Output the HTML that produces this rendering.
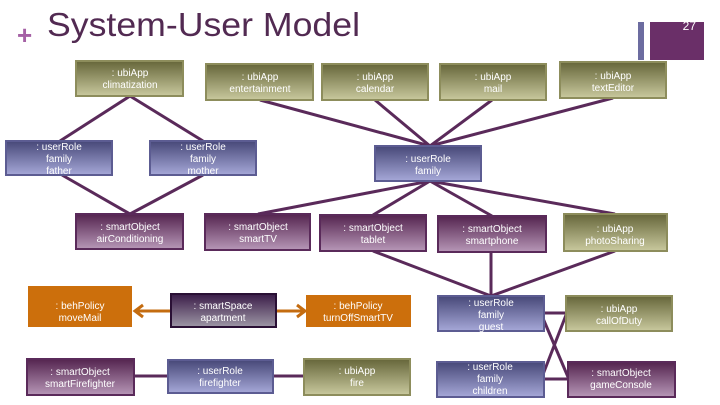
<!DOCTYPE html>
<html><head><meta charset="utf-8"><style>
html,body{margin:0;padding:0;background:#fff;}
svg{display:block;font-family:"Liberation Sans",sans-serif;}
</style></head><body>
<svg width="720" height="405" viewBox="0 0 720 405" xmlns="http://www.w3.org/2000/svg">
<defs>
<linearGradient id="ol" x1="0" y1="0" x2="0" y2="1"><stop offset="0" stop-color="#66663a"/><stop offset="1" stop-color="#c9c99e"/></linearGradient>
<linearGradient id="pu" x1="0" y1="0" x2="0" y2="1"><stop offset="0" stop-color="#54244f"/><stop offset="1" stop-color="#b797b7"/></linearGradient>
<linearGradient id="bl" x1="0" y1="0" x2="0" y2="1"><stop offset="0" stop-color="#474878"/><stop offset="1" stop-color="#a6a8d8"/></linearGradient>
<linearGradient id="sp" x1="0" y1="0" x2="0" y2="1"><stop offset="0" stop-color="#3a1c48"/><stop offset="1" stop-color="#9e97a6"/></linearGradient>
</defs>
<rect width="720" height="405" fill="#fff"/>
<!-- header -->
<text x="17" y="44" font-size="26" fill="#a561a5" font-weight="bold">+</text>
<text x="47" y="36" font-size="33" fill="#522a52" textLength="313" lengthAdjust="spacingAndGlyphs">System-User Model</text>
<rect x="638" y="22" width="6" height="38" fill="#6c6ca0"/>
<rect x="650" y="22" width="54" height="38" fill="#6a2f68"/>
<text x="696" y="30" font-size="12" fill="#fff" text-anchor="end">27</text>
<!-- connectors -->
<g stroke="#5a2a5a" stroke-width="3" fill="none">
<line x1="130" y1="96" x2="60" y2="141"/><line x1="130" y1="96" x2="203" y2="141"/>
<line x1="62" y1="175" x2="130" y2="214"/><line x1="203" y1="175" x2="130" y2="214"/>
<line x1="260" y1="100" x2="430" y2="146"/><line x1="375" y1="100" x2="430" y2="146"/>
<line x1="492" y1="100" x2="430" y2="146"/><line x1="613" y1="98" x2="430" y2="146"/>
<line x1="430" y1="181" x2="258" y2="214"/><line x1="430" y1="181" x2="373" y2="215"/>
<line x1="430" y1="181" x2="492" y2="216"/><line x1="430" y1="181" x2="615" y2="214"/>
<line x1="373" y1="251" x2="491" y2="296"/><line x1="491" y1="252" x2="491" y2="296"/>
<line x1="615" y1="251" x2="491" y2="296"/>
<line x1="134" y1="376" x2="168" y2="376"/><line x1="273" y1="376" x2="304" y2="376"/>
<line x1="544" y1="313" x2="566" y2="313"/><line x1="542" y1="316" x2="568" y2="377"/>
<line x1="542" y1="377" x2="566" y2="315"/><line x1="544" y1="379" x2="568" y2="379"/>
</g>
<g stroke="#c46c10" stroke-width="3" fill="none">
<line x1="171" y1="311" x2="136" y2="311"/><polyline points="143,305 135,311 143,317"/>
<line x1="276" y1="311" x2="304" y2="311"/><polyline points="297,305 305,311 297,317"/>
</g>
<!-- boxes -->
<g font-size="10" fill="#fff" text-anchor="middle">
<g stroke="#8d8d5c" stroke-width="2">
<rect x="76" y="61" width="107" height="35" fill="url(#ol)"/>
<rect x="206" y="64" width="107" height="36" fill="url(#ol)"/>
<rect x="322" y="64" width="106" height="36" fill="url(#ol)"/>
<rect x="440" y="64" width="106" height="36" fill="url(#ol)"/>
<rect x="560" y="62" width="106" height="36" fill="url(#ol)"/>
<rect x="564" y="214" width="103" height="37" fill="url(#ol)"/>
<rect x="566" y="296" width="106" height="35" fill="url(#ol)"/>
<rect x="304" y="359" width="106" height="36" fill="url(#ol)"/>
</g>
<g stroke="#5c5c92" stroke-width="2">
<rect x="6" y="141" width="106" height="34" fill="url(#bl)"/>
<rect x="150" y="141" width="106" height="34" fill="url(#bl)"/>
<rect x="375" y="146" width="106" height="35" fill="url(#bl)"/>
<rect x="438" y="296" width="106" height="35" fill="url(#bl)"/>
<rect x="168" y="360" width="105" height="33" fill="url(#bl)"/>
<rect x="437" y="362" width="107" height="35" fill="url(#bl)"/>
</g>
<g stroke="#5a2a5a" stroke-width="2">
<rect x="76" y="214" width="107" height="35" fill="url(#pu)"/>
<rect x="205" y="214" width="105" height="36" fill="url(#pu)"/>
<rect x="320" y="215" width="106" height="36" fill="url(#pu)"/>
<rect x="438" y="216" width="108" height="36" fill="url(#pu)"/>
<rect x="27" y="359" width="107" height="36" fill="url(#pu)"/>
<rect x="568" y="362" width="107" height="35" fill="url(#pu)"/>
</g>
<rect x="28" y="286" width="104" height="41" fill="#cc6f0c"/>
<rect x="306" y="295" width="105" height="32" fill="#cc6f0c"/>
<rect x="171" y="294" width="105" height="33" fill="url(#sp)" stroke="#2a1035" stroke-width="2"/>

<text x="130" y="76">: ubiApp</text><text x="130" y="88">climatization</text>
<text x="260" y="80">: ubiApp</text><text x="260" y="92">entertainment</text>
<text x="375" y="80">: ubiApp</text><text x="375" y="92">calendar</text>
<text x="493" y="80">: ubiApp</text><text x="493" y="92">mail</text>
<text x="613" y="79">: ubiApp</text><text x="613" y="91">textEditor</text>
<text x="59" y="150">: userRole</text><text x="59" y="162">family</text><text x="59" y="174">father</text>
<text x="203" y="150">: userRole</text><text x="203" y="162">family</text><text x="203" y="174">mother</text>
<text x="428" y="162">: userRole</text><text x="428" y="174">family</text>
<text x="130" y="230">: smartObject</text><text x="130" y="242">airConditioning</text>
<text x="258" y="230">: smartObject</text><text x="258" y="242">smartTV</text>
<text x="373" y="231">: smartObject</text><text x="373" y="243">tablet</text>
<text x="492" y="232">: smartObject</text><text x="492" y="244">smartphone</text>
<text x="615" y="232">: ubiApp</text><text x="615" y="244">photoSharing</text>
<text x="80" y="309">: behPolicy</text><text x="80" y="321">moveMail</text>
<text x="223" y="309">: smartSpace</text><text x="223" y="321">apartment</text>
<text x="358" y="309">: behPolicy</text><text x="358" y="321">turnOffSmartTV</text>
<text x="491" y="306">: userRole</text><text x="491" y="318">family</text><text x="491" y="330">guest</text>
<text x="619" y="312">: ubiApp</text><text x="619" y="324">callOfDuty</text>
<text x="80" y="375">: smartObject</text><text x="80" y="387">smartFirefighter</text>
<text x="220" y="374">: userRole</text><text x="220" y="386">firefighter</text>
<text x="357" y="374">: ubiApp</text><text x="357" y="386">fire</text>
<text x="490" y="370">: userRole</text><text x="490" y="382">family</text><text x="490" y="394">children</text>
<text x="621" y="376">: smartObject</text><text x="621" y="388">gameConsole</text>
</g>
</svg>
</body></html>
